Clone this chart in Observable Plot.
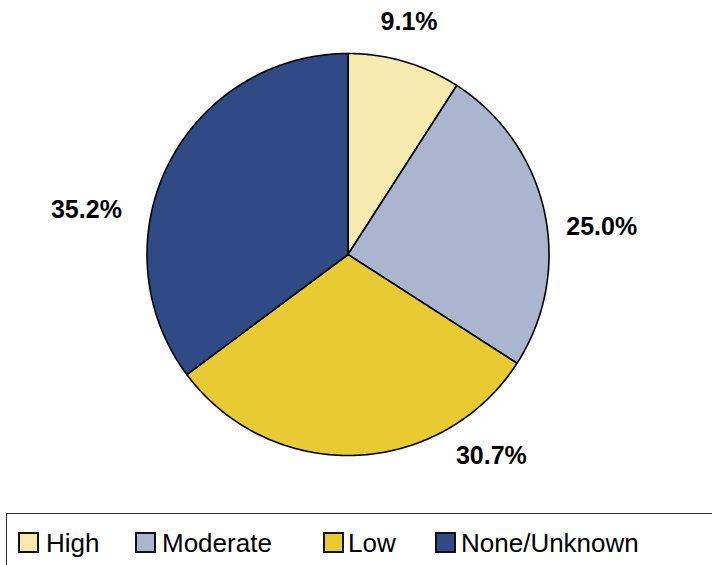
<!DOCTYPE html>
<html>
<head>
<meta charset="utf-8">
<script src="https://cdn.jsdelivr.net/npm/d3@7"></script>
<script src="https://cdn.jsdelivr.net/npm/@observablehq/plot@0.6"></script>
<style>
  html, body { margin: 0; padding: 0; background: #fff; }
  body { width: 712px; height: 565px; overflow: hidden; font-family: "Liberation Sans", Arial, sans-serif; }
  #legend { position: relative; width: 712px; height: 60px; overflow: hidden; }
  #legend .box { position: absolute; left: 6px; top: 8px; width: 800px; height: 100px; border: 1.5px solid #333; box-sizing: border-box; }
  #legend .sw { position: absolute; top: 27px; width: 21px; height: 21px; border: 2px solid #111; box-sizing: border-box; }
  #legend .lb { position: absolute; top: 25px; font-size: 26px; line-height: 26px; color: #000; white-space: nowrap; }
</style>
</head>
<body>
<div id="chart"></div>
<div id="legend"><div class="box"></div></div>
<script>
// ---- data ----
const categories = ["High", "Moderate", "Low", "None/Unknown"];
const shares = [9.1, 25.0, 30.7, 35.2];
const labels = ["9.1%", "25.0%", "30.7%", "35.2%"];
// ---- style ----
const palette = ["#F6EAAE", "#AAB5D0", "#E8CA33", "#304A86"];
const labelNudge = [[-7, -1], [18, 24], [135, -40], [-46, 64]]; // px nudges from outside mid-angle anchor
const legendSwatchX = [18, 135, 323, 435];
const legendTextX = [46, 162, 348, 461];

// ---- slice geometry from data ----
const total = d3.sum(shares);
const pxPerUnit = 201;
let cum = 0;
const pts = [];
const labelData = [];
categories.forEach((cat, i) => {
  const a0 = cum / total * 2 * Math.PI;
  cum += shares[i];
  const a1 = cum / total * 2 * Math.PI;
  pts.push({cat, x: 0, y: 0});
  const n = Math.max(8, Math.ceil((a1 - a0) / (Math.PI / 360)));
  for (let k = 0; k <= n; k++) {
    const a = a0 + (a1 - a0) * k / n;
    pts.push({cat, x: Math.sin(a), y: Math.cos(a)});
  }
  const am = (a0 + a1) / 2;
  const rr = 1.2;
  labelData.push({
    cat,
    text: labels[i],
    x: Math.sin(am) * rr + labelNudge[i][0] / pxPerUnit,
    y: Math.cos(am) * rr - labelNudge[i][1] / pxPerUnit
  });
});

const chart = Plot.plot({
  width: 712,
  height: 505,
  marginLeft: 146.5,
  marginRight: 163.5,
  marginTop: 53,
  marginBottom: 50,
  style: {background: "#fff", fontFamily: "'Liberation Sans', Arial, sans-serif", overflow: "visible"},
  x: {domain: [-1, 1], axis: null},
  y: {domain: [-1, 1], axis: null},
  color: {domain: categories, range: palette},
  marks: [
    Plot.line(pts, {x: "x", y: "y", z: "cat", fill: "cat", stroke: "#000", strokeWidth: 1.6, curve: "linear-closed", strokeLinejoin: "round"}),
    Plot.text(labelData, {x: "x", y: "y", text: "text", fontSize: 25, fontWeight: "bold", fill: "#000", textAnchor: "middle", lineAnchor: "middle"})
  ]
});
document.getElementById("chart").appendChild(chart);

// ---- legend ----
const legend = document.getElementById("legend");
categories.forEach((cat, i) => {
  const sw = document.createElement("div");
  sw.className = "sw";
  sw.style.left = legendSwatchX[i] + "px";
  sw.style.background = palette[i];
  legend.appendChild(sw);
  const lb = document.createElement("div");
  lb.className = "lb";
  lb.style.left = legendTextX[i] + "px";
  lb.textContent = cat;
  legend.appendChild(lb);
});
</script>
</body>
</html>
